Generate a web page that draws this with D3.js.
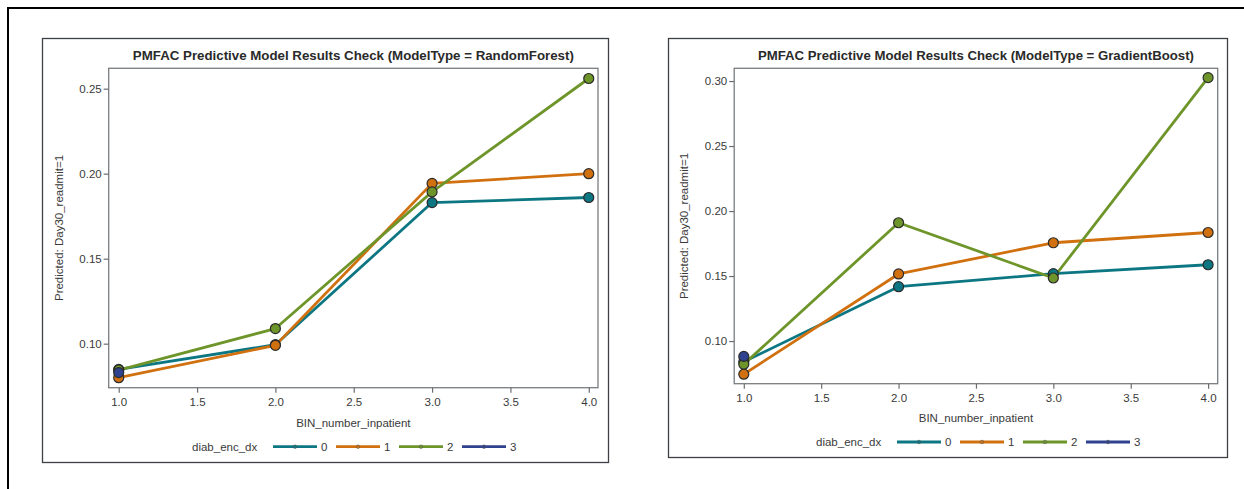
<!DOCTYPE html>
<html>
<head>
<meta charset="utf-8">
<script src="https://cdn.jsdelivr.net/npm/d3@7"></script>
<style>
  html, body { margin: 0; padding: 0; background: #fff; }
  svg { display: block; }
  text { font-family: "Liberation Sans", Arial, sans-serif; }
</style>
</head>
<body>
<svg id="chart" width="1244" height="489"></svg>
<script>
// ---- data ----
const xValues = [1, 2, 3, 4];
const groups = ["0", "1", "2", "3"];
const groupColors = ["#0C7783", "#D0700F", "#6E952A", "#2E4290"];
const xTicks = [1.0, 1.5, 2.0, 2.5, 3.0, 3.5, 4.0];

const titleRF = "PMFAC Predictive Model Results Check (ModelType = RandomForest)";
const titleGB = "PMFAC Predictive Model Results Check (ModelType = GradientBoost)";
const xLabel = "BIN_number_inpatient";
const yLabel = "Predicted: Day30_readmit=1";
const legendTitle = "diab_enc_dx";

// RandomForest series (values by x = 1..4; null = no point)
const rf0 = [0.0849, 0.0994, 0.1830, 0.1860];
const rf1 = [0.0800, 0.0990, 0.1943, 0.2000];
const rf2 = [0.0845, 0.1089, 0.1893, 0.2560];
const rf3 = [0.0830, null, null, null];
const rfYTicks = [0.10, 0.15, 0.20, 0.25];

// GradientBoost series
const gb0 = [0.0840, 0.1418, 0.1518, 0.1587];
const gb1 = [0.0745, 0.1516, 0.1756, 0.1835];
const gb2 = [0.0822, 0.1910, 0.1485, 0.3026];
const gb3 = [0.0882, null, null, null];
const gbYTicks = [0.10, 0.15, 0.20, 0.25, 0.30];

const svg = d3.select("#chart");

// outer frame (only top/left visible)
svg.append("rect").attr("x", 8).attr("y", 8).attr("width", 1300).attr("height", 600)
  .attr("fill", "none").attr("stroke", "#000").attr("stroke-width", 2);

function panel(cfg) {
  const g = svg.append("g");
  // panel box
  g.append("rect").attr("x", cfg.box[0] + 0.5).attr("y", cfg.box[1] + 0.5)
    .attr("width", cfg.box[2] - cfg.box[0]).attr("height", cfg.box[3] - cfg.box[1])
    .attr("fill", "#fff").attr("stroke", "#3d4145").attr("stroke-width", 1.3);

  const [pl, pt, pr, pb] = cfg.plot;
  const x = d3.scaleLinear().domain(cfg.xDomain).range([pl, pr]);
  const y = d3.scaleLinear().domain(cfg.yDomain).range([pb, pt]);

  // plot frame
  g.append("rect").attr("x", pl).attr("y", pt).attr("width", pr - pl).attr("height", pb - pt)
    .attr("fill", "none").attr("stroke", "#7a7d80").attr("stroke-width", 1.3);

  // axes
  const xAxis = g.append("g").attr("transform", `translate(0,${pb})`)
    .call(d3.axisBottom(x).tickValues(xTicks).tickFormat(d3.format(".1f")).tickSize(5).tickSizeOuter(0));
  const yAxis = g.append("g").attr("transform", `translate(${pl},0)`)
    .call(d3.axisLeft(y).tickValues(cfg.yTicks).tickFormat(d3.format(".2f")).tickSize(5).tickSizeOuter(0));
  [xAxis, yAxis].forEach(a => {
    a.select(".domain").remove();
    a.selectAll(".tick line").attr("stroke", "#6a6d70").attr("stroke-width", 1.2);
    a.selectAll(".tick text").attr("fill", "#3a3a3a").attr("font-size", 11.5)
      .attr("font-family", "'Liberation Sans', Arial, sans-serif");
  });
  xAxis.selectAll(".tick text").attr("dy", "0.71em").attr("y", 10);
  yAxis.selectAll(".tick text").attr("x", -7);

  // title
  g.append("text").attr("x", (pl + pr) / 2).attr("y", cfg.titleY)
    .attr("text-anchor", "middle").attr("font-size", 12.5).attr("font-weight", "bold")
    .attr("fill", "#2a2a2a").attr("textLength", cfg.titleLen).attr("lengthAdjust", "spacingAndGlyphs")
    .text(cfg.title);

  // axis labels
  g.append("text").attr("x", (pl + pr) / 2).attr("y", cfg.xLabelY)
    .attr("text-anchor", "middle").attr("font-size", 11.5).attr("fill", "#3a3a3a").text(xLabel);
  g.append("text").attr("transform", `translate(${cfg.yLabelX},${(pt + pb) / 2}) rotate(-90)`)
    .attr("text-anchor", "middle").attr("font-size", 11.5).attr("fill", "#3a3a3a").text(yLabel);

  // lines
  const line = d3.line().defined(d => d.v !== null).x(d => x(d.x)).y(d => y(d.v));
  const plotG = g.append("g");
  cfg.series.forEach((s, i) => {
    const pts = xValues.map((xv, j) => ({ x: xv, v: s[j] }));
    plotG.append("path").datum(pts).attr("d", line).attr("fill", "none")
      .attr("stroke", groupColors[i]).attr("stroke-width", 2.8).attr("stroke-linejoin", "round");
  });
  cfg.series.forEach((s, i) => {
    const pts = xValues.map((xv, j) => ({ x: xv, v: s[j] })).filter(d => d.v !== null);
    plotG.selectAll(null).data(pts).enter().append("circle")
      .attr("cx", d => x(d.x)).attr("cy", d => y(d.v)).attr("r", 5)
      .attr("fill", groupColors[i]).attr("stroke", "#2b2b2b").attr("stroke-width", 1.2);
  });

  // legend
  const ly = cfg.legendY;
  g.append("text").attr("x", cfg.legendX).attr("y", ly).attr("dy", "0.35em")
    .attr("font-size", 11.5).attr("fill", "#3a3a3a").text(legendTitle);
  groups.forEach((name, i) => {
    const x0 = cfg.legendX + 81 + i * 63;
    g.append("line").attr("x1", x0).attr("x2", x0 + 44).attr("y1", ly).attr("y2", ly)
      .attr("stroke", groupColors[i]).attr("stroke-width", 2.8);
    g.append("circle").attr("cx", x0 + 22).attr("cy", ly).attr("r", 1.8)
      .attr("fill", groupColors[i]).attr("stroke", "#555").attr("stroke-width", 0.5);
    g.append("text").attr("x", x0 + 48).attr("y", ly).attr("dy", "0.35em")
      .attr("font-size", 11.5).attr("fill", "#3a3a3a").text(name);
  });
}

panel({
  box: [42, 38, 608, 462],
  plot: [108.7, 68.3, 598, 387.7],
  xDomain: [0.936, 4.059],
  yDomain: [0.0741, 0.262],
  yTicks: rfYTicks,
  title: titleRF, titleY: 60, titleLen: 441,
  xLabelY: 426.5, yLabelX: 62.5,
  legendX: 192, legendY: 446.7,
  series: [rf0, rf1, rf2, rf3]
});

panel({
  box: [668, 38, 1227, 457],
  plot: [734.2, 68.3, 1217.7, 383.7],
  xDomain: [0.938, 4.062],
  yDomain: [0.0672, 0.3098],
  yTicks: gbYTicks,
  title: titleGB, titleY: 60, titleLen: 436,
  xLabelY: 421.5, yLabelX: 687.5,
  legendX: 816, legendY: 442,
  series: [gb0, gb1, gb2, gb3]
});
</script>
</body>
</html>
